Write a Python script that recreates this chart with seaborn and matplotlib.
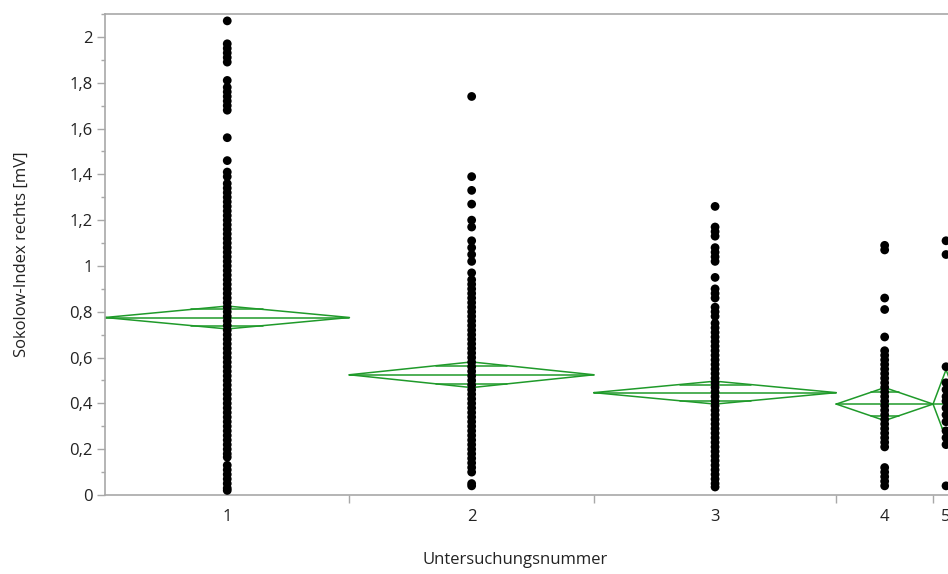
import numpy as np
import pandas as pd
import matplotlib
matplotlib.use("Agg")
import matplotlib.pyplot as plt
from matplotlib.ticker import MultipleLocator, FuncFormatter
import seaborn as sns

# Gruppen (Untersuchungsnummer), Breite proportional zur Fallzahl
group_labels = ["1", "2", "3", "4", "5"]
group_n = [245, 245, 243, 97, 26]

# Mittelwert-Rauten: Mittelwert und halbe Breite des 95%-KI
group_means = [0.775, 0.525, 0.447, 0.397, 0.397]
group_ci = [0.050, 0.056, 0.050, 0.072, 0.150]

# Einzelwerte, Sokolow-Index rechts [mV]
vals_1 = [2.07, 1.97, 1.95, 1.93, 1.91, 1.89, 1.81, 1.78, 1.76, 1.74, 1.72, 1.70, 1.68,
          1.56, 1.46, 1.41, 1.39, 1.36, 1.34, 1.32, 1.30, 1.28, 1.26, 1.24, 1.22, 1.20,
          1.18, 1.16, 1.14, 1.12, 1.10, 1.08, 1.06, 1.04, 1.02, 1.00, 0.98, 0.96, 0.94,
          0.92, 0.90, 0.88, 0.86, 0.84, 0.82, 0.80, 0.78, 0.76, 0.74, 0.72, 0.70, 0.68,
          0.66, 0.64, 0.62, 0.60, 0.58, 0.56, 0.54, 0.52, 0.50, 0.48, 0.46, 0.44, 0.42,
          0.40, 0.38, 0.36, 0.34, 0.32, 0.30, 0.28, 0.26, 0.24, 0.22, 0.20, 0.18, 0.165,
          0.13, 0.11, 0.09, 0.07, 0.05, 0.03, 0.02]
vals_2 = [1.74, 1.39, 1.33, 1.27, 1.20, 1.17, 1.11, 1.08, 1.05, 1.02, 0.97, 0.94, 0.92,
          0.90, 0.88, 0.86, 0.84, 0.82, 0.80, 0.78, 0.76, 0.74, 0.72, 0.70, 0.68, 0.66,
          0.64, 0.62, 0.60, 0.58, 0.56, 0.54, 0.52, 0.50, 0.48, 0.46, 0.44, 0.42, 0.40,
          0.38, 0.36, 0.34, 0.32, 0.30, 0.28, 0.26, 0.24, 0.22, 0.20, 0.18, 0.16, 0.14,
          0.12, 0.10, 0.05, 0.04]
vals_3 = [1.26, 1.17, 1.15, 1.13, 1.08, 1.06, 1.04, 1.02, 0.95, 0.90, 0.88, 0.86, 0.82,
          0.80, 0.78, 0.75, 0.73, 0.71, 0.69, 0.67, 0.65, 0.63, 0.61, 0.59, 0.57, 0.55,
          0.53, 0.51, 0.49, 0.47, 0.45, 0.43, 0.41, 0.39, 0.37, 0.35, 0.33, 0.31, 0.29,
          0.27, 0.25, 0.23, 0.21, 0.19, 0.17, 0.15, 0.13, 0.11, 0.09, 0.07, 0.05, 0.035]
vals_4 = [1.09, 1.07, 0.86, 0.81, 0.69, 0.63, 0.61, 0.59, 0.57, 0.55, 0.53, 0.51, 0.49,
          0.47, 0.45, 0.43, 0.41, 0.39, 0.37, 0.35, 0.33, 0.31, 0.29, 0.27, 0.25, 0.23,
          0.21, 0.12, 0.10, 0.08, 0.06, 0.04]
vals_5 = [1.11, 1.05, 0.56, 0.49, 0.46, 0.43, 0.41, 0.38, 0.35, 0.32, 0.28, 0.25, 0.22, 0.04]

all_vals = [vals_1, vals_2, vals_3, vals_4, vals_5]

edges = np.concatenate([[0], np.cumsum(group_n)])
centers = (edges[:-1] + edges[1:]) / 2

df = pd.DataFrame({
    "gruppe": np.repeat(group_labels, [len(v) for v in all_vals]),
    "wert": np.concatenate(all_vals),
})
df["xpos"] = df["gruppe"].map(dict(zip(group_labels, centers)))

sns.set_theme(style="white")
plt.rcParams["font.family"] = ["Open Sans", "DejaVu Sans"]

fig = plt.figure(figsize=(9.48, 5.74), dpi=100)
ax = fig.add_axes([0.1108, 0.1376, 0.9008, 0.838])

green = "#1f9a2a"
for i in range(len(group_labels)):
    x0, x1, xc = edges[i], edges[i + 1], centers[i]
    m, ci = group_means[i], group_ci[i]
    # Raute
    ax.plot([x0, xc, x1, xc, x0], [m, m + ci, m, m - ci, m], color=green, lw=1.1, zorder=2)
    # Mittelwertlinie
    ax.plot([x0, x1], [m, m], color=green, lw=1.1, zorder=2)
    # Overlap-Marken
    half = (x1 - x0) / 2 * (1 - 1 / np.sqrt(2))
    off = ci / np.sqrt(2)
    for s in (1, -1):
        ax.plot([xc - half, xc + half], [m + s * off, m + s * off], color=green, lw=1.1, zorder=2)

sns.scatterplot(data=df, x="xpos", y="wert", color="black", s=40, edgecolor="none",
                ax=ax, zorder=3, legend=False)

ax.set_xlim(edges[0], edges[-1])
ax.set_ylim(0, 2.1)

ax.set_xticks(edges[1:-1])
ax.set_xticklabels([])
ax.set_xticks(centers, minor=True)
ax.set_xticklabels(group_labels, minor=True)
ax.tick_params(axis="x", which="major", length=6, width=1, color="#a8a8a8", direction="out", bottom=True)
ax.tick_params(axis="x", which="minor", length=0, pad=10, labelsize=12, labelcolor="#222222")

ax.yaxis.set_major_locator(MultipleLocator(0.2))
ax.yaxis.set_minor_locator(MultipleLocator(0.1))
ax.yaxis.set_major_formatter(FuncFormatter(lambda v, p: f"{round(v, 1):g}".replace(".", ",")))
ax.tick_params(axis="y", which="major", length=6, width=1, color="#a8a8a8", direction="out",
               left=True, labelsize=12, labelcolor="#222222", pad=3)
ax.tick_params(axis="y", which="minor", length=3, width=1, color="#a8a8a8", direction="out", left=True)

for side in ["left", "bottom", "top"]:
    ax.spines[side].set_color("#a8a8a8")
    ax.spines[side].set_linewidth(1.2)
ax.spines["right"].set_visible(False)

ax.set_xlabel("Untersuchungsnummer", fontsize=12, color="#222222")
ax.xaxis.set_label_coords(0.48, -0.118)
ax.set_ylabel("Sokolow-Index rechts [mV]", fontsize=12, color="#222222")
ax.yaxis.set_label_coords(-0.088, 0.5)

fig.savefig("out.png", dpi=100)
